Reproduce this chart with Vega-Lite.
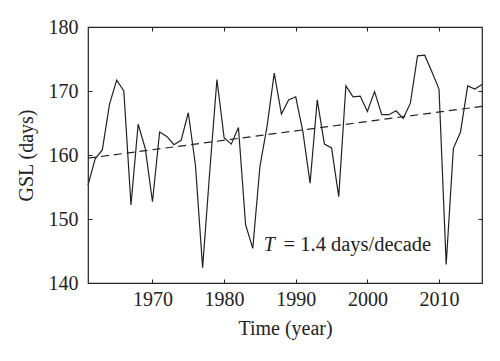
{
  "$schema": "https://vega.github.io/schema/vega-lite/v6.json",
  "width": 394,
  "height": 256,
  "autosize": {"type": "none"},
  "padding": {"left": 88, "top": 27, "right": 18, "bottom": 78},
  "background": "white",
  "config": {
    "view": {"stroke": "#222", "strokeWidth": 1.2},
    "font": "Liberation Serif",
    "axis": {
      "domain": false,
      "grid": false,
      "labelFont": "Liberation Serif",
      "titleFont": "Liberation Serif",
      "labelFontSize": 20,
      "titleFontSize": 20,
      "titleFontWeight": "normal",
      "labelColor": "#222",
      "titleColor": "#222",
      "tickColor": "#222",
      "tickSize": -4,
      "tickWidth": 1
    }
  },
  "datasets": {
    "gsl": [
      {"year": 1961, "gsl": 155.3},
      {"year": 1962, "gsl": 159.4},
      {"year": 1963, "gsl": 160.8},
      {"year": 1964, "gsl": 167.9},
      {"year": 1965, "gsl": 171.7},
      {"year": 1966, "gsl": 170.0},
      {"year": 1967, "gsl": 152.2},
      {"year": 1968, "gsl": 164.8},
      {"year": 1969, "gsl": 161.0},
      {"year": 1970, "gsl": 152.7},
      {"year": 1971, "gsl": 163.6},
      {"year": 1972, "gsl": 162.9},
      {"year": 1973, "gsl": 161.6},
      {"year": 1974, "gsl": 162.3},
      {"year": 1975, "gsl": 166.6},
      {"year": 1976, "gsl": 158.4},
      {"year": 1977, "gsl": 142.4},
      {"year": 1978, "gsl": 157.5},
      {"year": 1979, "gsl": 171.8},
      {"year": 1980, "gsl": 162.7},
      {"year": 1981, "gsl": 161.7},
      {"year": 1982, "gsl": 164.3},
      {"year": 1983, "gsl": 149.1},
      {"year": 1984, "gsl": 145.4},
      {"year": 1985, "gsl": 158.2},
      {"year": 1986, "gsl": 164.5},
      {"year": 1987, "gsl": 172.8},
      {"year": 1988, "gsl": 166.4},
      {"year": 1989, "gsl": 168.6},
      {"year": 1990, "gsl": 169.1},
      {"year": 1991, "gsl": 163.6},
      {"year": 1992, "gsl": 155.6},
      {"year": 1993, "gsl": 168.6},
      {"year": 1994, "gsl": 161.7},
      {"year": 1995, "gsl": 161.1},
      {"year": 1996, "gsl": 153.5},
      {"year": 1997, "gsl": 170.8},
      {"year": 1998, "gsl": 169.1},
      {"year": 1999, "gsl": 169.2},
      {"year": 2000, "gsl": 166.8},
      {"year": 2001, "gsl": 169.9},
      {"year": 2002, "gsl": 166.3},
      {"year": 2003, "gsl": 166.3},
      {"year": 2004, "gsl": 166.9},
      {"year": 2005, "gsl": 165.7},
      {"year": 2006, "gsl": 168.1},
      {"year": 2007, "gsl": 175.5},
      {"year": 2008, "gsl": 175.6},
      {"year": 2009, "gsl": 173.0},
      {"year": 2010, "gsl": 170.3},
      {"year": 2011, "gsl": 142.9},
      {"year": 2012, "gsl": 161.0},
      {"year": 2013, "gsl": 163.6},
      {"year": 2014, "gsl": 170.8},
      {"year": 2015, "gsl": 170.3},
      {"year": 2016, "gsl": 171.0}
    ],
    "trend": [
      {"year": 1961, "gsl": 159.5},
      {"year": 2016, "gsl": 167.6}
    ],
    "label": [
      {"year": 1987.1, "gsl": 146.0, "t": "T", "rest": "= 1.4 days/decade", "year2": 1988.3}
    ]
  },
  "layer": [
    {
      "data": {"name": "gsl"},
      "mark": {"type": "line", "color": "#222", "strokeWidth": 1.2},
      "encoding": {
        "x": {
          "field": "year", "type": "quantitative",
          "scale": {"domain": [1961, 2016], "nice": false, "zero": false},
          "axis": {"values": [1970, 1980, 1990, 2000, 2010], "format": "d", "title": "Time (year)", "labelPadding": 10, "titlePadding": 9}
        },
        "y": {
          "field": "gsl", "type": "quantitative",
          "scale": {"domain": [140, 180], "nice": false, "zero": false},
          "axis": {"values": [140, 150, 160, 170, 180], "title": "GSL (days)", "labelPadding": 14, "titlePadding": 12}
        }
      }
    },
    {
      "data": {"name": "trend"},
      "mark": {"type": "line", "color": "#222", "strokeWidth": 1.2, "strokeDash": [8, 5]},
      "encoding": {
        "x": {"field": "year", "type": "quantitative", "axis": {"orient": "top", "values": [1970, 1980, 1990, 2000, 2010], "labels": false, "title": null}},
        "y": {"field": "gsl", "type": "quantitative", "axis": {"orient": "right", "values": [150, 160, 170], "labels": false, "title": null}}
      }
    },
    {
      "data": {"name": "label"},
      "mark": {"type": "text", "align": "right", "baseline": "middle", "fontStyle": "italic", "fontSize": 20, "font": "Liberation Serif", "color": "#222"},
      "encoding": {
        "x": {"field": "year", "type": "quantitative", "axis": null},
        "y": {"field": "gsl", "type": "quantitative", "axis": null},
        "text": {"field": "t"}
      }
    },
    {
      "data": {"name": "label"},
      "mark": {"type": "text", "align": "left", "baseline": "middle", "fontSize": 20.5, "font": "Liberation Serif", "color": "#222"},
      "encoding": {
        "x": {"field": "year2", "type": "quantitative", "axis": null},
        "y": {"field": "gsl", "type": "quantitative", "axis": null},
        "text": {"field": "rest"}
      }
    }
  ],
  "resolve": {"axis": {"x": "independent", "y": "independent"}}
}
